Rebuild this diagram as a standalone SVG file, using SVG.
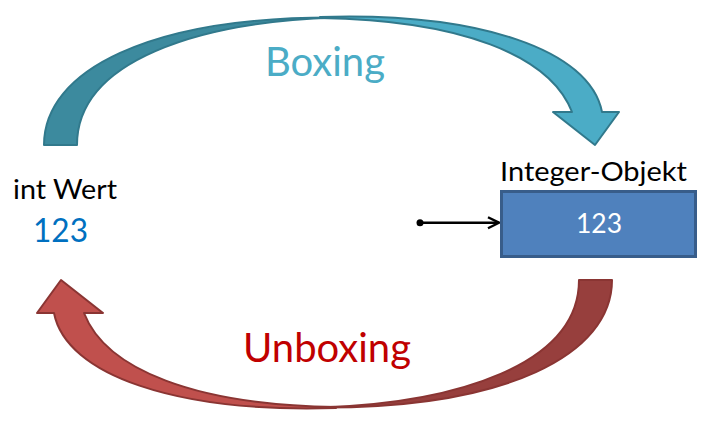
<svg xmlns="http://www.w3.org/2000/svg" width="713" height="424" viewBox="0 0 713 424">
<style>
  .lbl { font-family: Lato, "Open Sans", "Liberation Sans", sans-serif; }
  .tback { fill: #3c8a9e; stroke: #31798c; stroke-width: 2; stroke-linejoin: round; }
  .tfront { fill: #4bacc6; stroke: #31798c; stroke-width: 2; stroke-linejoin: round; }
  .rback { fill: #973f3d; stroke: #8a3533; stroke-width: 2; stroke-linejoin: round; }
  .rfront { fill: #c0504d; stroke: #8a3533; stroke-width: 2; stroke-linejoin: round; }
</style>
<defs>
  <path id="backShape" d="M44,145 C44,70 150,17 335,17.5 C200,22 77,60 77,145 Z"/>
  <path id="frontShape" d="M320,17 C480,12 590,50 602,112 L619,112 L595,145 L553,112 L572,112 C550,55 460,20 320,18 Z"/>
  <marker id="openArrow" viewBox="0 0 14 14" refX="12.5" refY="7" markerWidth="14" markerHeight="14" markerUnits="userSpaceOnUse" orient="auto">
    <path d="M1.5,1.5 L12.5,7 L1.5,12.5" fill="none" stroke="#000" stroke-width="2.4" stroke-linejoin="miter"/>
  </marker>
</defs>
<rect width="713" height="424" fill="#ffffff"/>

<g id="connectors">
  <g id="boxing-arrow">
    <use href="#backShape" class="tback"/>
    <use href="#frontShape" class="tfront"/>
  </g>
  <g id="unboxing-arrow" transform="rotate(180 328 212.5)">
    <use href="#backShape" class="rback"/>
    <use href="#frontShape" class="rfront"/>
  </g>
  <g id="reference-pointer">
    <line x1="420" y1="222.7" x2="499" y2="222.7" stroke="#000" stroke-width="2.6" marker-end="url(#openArrow)"/>
    <circle cx="420" cy="222.7" r="3.5" fill="#000"/>
  </g>
</g>

<g id="label-boxing">
  <text class="lbl" x="265" y="76" font-size="41" fill="#4bacc6" textLength="120" lengthAdjust="spacingAndGlyphs">Boxing</text>
</g>
<g id="label-unboxing">
  <text class="lbl" x="243" y="362" font-size="41" fill="#c00000" textLength="168" lengthAdjust="spacingAndGlyphs">Unboxing</text>
</g>

<g id="node-int">
  <text class="lbl" x="13" y="199" font-size="26" fill="#000" textLength="104" lengthAdjust="spacingAndGlyphs">int Wert</text>
  <text class="lbl" x="33" y="242" font-size="33" fill="#0070c0" textLength="55" lengthAdjust="spacingAndGlyphs">123</text>
</g>

<g id="node-integer-object">
  <text class="lbl" x="500" y="181" font-size="26.5" fill="#000" textLength="187" lengthAdjust="spacingAndGlyphs">Integer-Objekt</text>
  <rect x="501.5" y="191.5" width="194" height="65" fill="#4f81bd" stroke="#385d8a" stroke-width="3"/>
  <text class="lbl" x="576" y="233.3" font-size="27" fill="#ffffff" textLength="46" lengthAdjust="spacingAndGlyphs">123</text>
</g>
</svg>
